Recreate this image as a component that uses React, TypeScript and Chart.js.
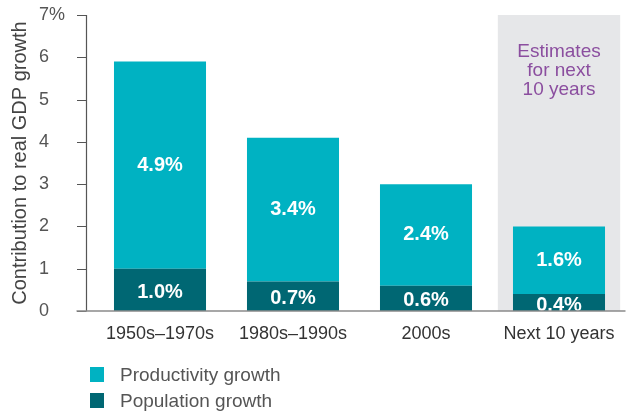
import React, { useEffect, useRef } from "react";
import { Chart, registerables } from "chart.js";

Chart.register(...registerables);

const categories = ["1950s–1970s", "1980s–1990s", "2000s", "Next 10 years"];
const populationGrowth = [1.0, 0.7, 0.6, 0.4];
const productivityGrowth = [4.9, 3.4, 2.4, 1.6];
const yTickValues = [0, 1, 2, 3, 4, 5, 6, 7];
const yMax = 7;
const estimateIndex = 3;
const estimateLines = ["Estimates", "for next", "10 years"];
const seriesNames = ["Productivity growth", "Population growth"];
const yTitle = "Contribution to real GDP growth";

const PROD = "#00B2C2";
const POP = "#006773";
const SHADE = "#E6E7E9";
const PURPLE = "#8B4E9F";
const FONT = "'Liberation Sans', Arial, sans-serif";

const decorPlugin = {
  id: "decor",
  beforeDatasetsDraw(chart: any) {
    const { ctx, scales } = chart;
    const x = scales.x;
    const y = scales.y;
    const slot = x.width / categories.length;
    const cx = x.getPixelForValue(estimateIndex);
    const top = y.getPixelForValue(yMax);
    const bottom = y.getPixelForValue(0);
    ctx.save();
    ctx.fillStyle = SHADE;
    ctx.fillRect(cx - slot * 0.46, top, slot * 0.92, bottom - top);
    ctx.fillStyle = PURPLE;
    ctx.font = `19px ${FONT}`;
    ctx.textAlign = "center";
    ctx.textBaseline = "middle";
    estimateLines.forEach((line, i) => {
      ctx.fillText(line, cx, top + 37 + i * 19);
    });
    ctx.restore();
  },
  afterDatasetsDraw(chart: any) {
    const { ctx, chartArea, scales } = chart;
    const y = scales.y;
    ctx.save();
    // bar value labels
    ctx.fillStyle = "#FFFFFF";
    ctx.font = `bold 20px ${FONT}`;
    ctx.textAlign = "center";
    ctx.textBaseline = "middle";
    chart.data.datasets.forEach((ds: any, di: number) => {
      const meta = chart.getDatasetMeta(di);
      meta.data.forEach((el: any, i: number) => {
        const v = ds.data[i];
        const cy = (el.y + el.base) / 2 + (di === 0 ? 2.5 : 0);
        ctx.fillText(v.toFixed(1) + "%", el.x, cy);
      });
    });
    // axes
    const axisX = chartArea.left - 7;
    const y0 = y.getPixelForValue(0);
    const yTop = y.getPixelForValue(yMax);
    ctx.strokeStyle = "#555555";
    ctx.lineWidth = 1.2;
    ctx.beginPath();
    ctx.moveTo(axisX, yTop);
    ctx.lineTo(axisX, y0);
    yTickValues.forEach((t) => {
      const py = Math.round(y.getPixelForValue(t)) + 0.5;
      ctx.moveTo(axisX - 9.5, py);
      ctx.lineTo(axisX, py);
    });
    ctx.stroke();
    ctx.strokeStyle = "#8A8A8A";
    ctx.lineWidth = 1.6;
    ctx.beginPath();
    ctx.moveTo(axisX - 10, y0);
    ctx.lineTo(chartArea.right, y0);
    ctx.stroke();
    // y title
    ctx.fillStyle = "#444444";
    ctx.font = `20px ${FONT}`;
    ctx.textAlign = "center";
    ctx.textBaseline = "middle";
    ctx.translate(20, (yTop + y0) / 2);
    ctx.rotate(-Math.PI / 2);
    ctx.fillText(yTitle, 0, 0);
    ctx.restore();
  },
};

export default function App() {
  const canvasRef = useRef<HTMLCanvasElement | null>(null);

  useEffect(() => {
    if (!canvasRef.current) return;
    const chart = new Chart(canvasRef.current, {
      type: "bar",
      data: {
        labels: categories,
        datasets: [
          {
            label: seriesNames[1],
            data: populationGrowth,
            backgroundColor: POP,
            categoryPercentage: 1,
            barPercentage: 0.692,
            stack: "s",
          },
          {
            label: seriesNames[0],
            data: productivityGrowth,
            backgroundColor: PROD,
            categoryPercentage: 1,
            barPercentage: 0.692,
            stack: "s",
          },
        ],
      },
      options: {
        animation: false,
        responsive: false,
        layout: { padding: { left: 39, right: 2.5, top: 15, bottom: 0 } },
        plugins: {
          legend: { display: false },
          tooltip: { enabled: false },
        },
        scales: {
          x: {
            stacked: true,
            grid: { display: false, drawTicks: false },
            border: { display: false },
            ticks: {
              color: "#333333",
              font: { family: FONT, size: 18 },
              padding: 12,
            },
            afterFit: (s: any) => {
              s.height = 101;
            },
          },
          y: {
            stacked: true,
            min: 0,
            max: yMax,
            grid: { display: false, drawTicks: false },
            border: { display: false },
            ticks: {
              stepSize: 1,
              color: "#555555",
              crossAlign: "far",
              font: { family: FONT, size: 18 },
              callback: (v: any) => (Number(v) === yMax ? `${v}%` : `${v}`),
            },
            afterFit: (s: any) => {
              s.width = 54.5;
            },
          },
        },
      },
      plugins: [decorPlugin],
    });
    return () => chart.destroy();
  }, []);

  const legendItems = [
    { name: seriesNames[0], color: PROD, top: 367 },
    { name: seriesNames[1], color: POP, top: 393 },
  ];

  return (
    <div style={{ position: "absolute", left: 0, top: 0, width: 628, height: 412, background: "#fff" }}>
      <canvas ref={canvasRef} width={628} height={412} style={{ width: 628, height: 412, display: "block" }} />
      {legendItems.map((it) => (
        <div key={it.name}>
          <div
            style={{
              position: "absolute",
              left: 90,
              top: it.top,
              width: 14,
              height: 15,
              background: it.color,
            }}
          />
          <div
            style={{
              position: "absolute",
              left: 120,
              top: it.top - 4,
              height: 23,
              lineHeight: "23px",
              fontFamily: FONT,
              fontSize: 19,
              color: "#555555",
              whiteSpace: "nowrap",
            }}
          >
            {it.name}
          </div>
        </div>
      ))}
    </div>
  );
}
